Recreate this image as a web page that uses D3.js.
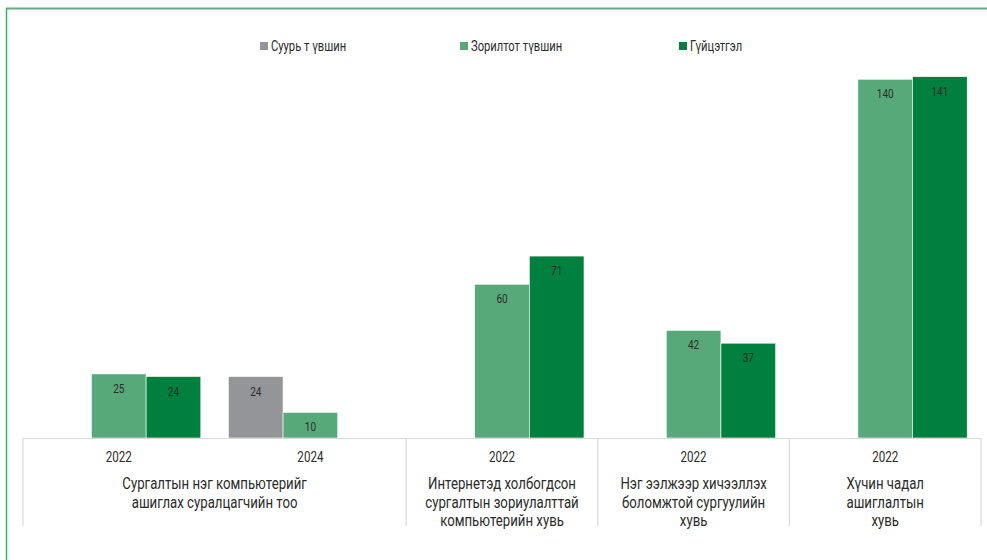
<!DOCTYPE html>
<html>
<head>
<meta charset="utf-8">
<script src="https://cdn.jsdelivr.net/npm/d3@7"></script>
<style>
  body { margin: 0; background: #fff; }
  svg text { font-family: "Roboto", "Noto Sans", sans-serif; fill: #2b2b2b; }
</style>
</head>
<body>
<div class="chart"></div>
<script>
var svgWidth = 987;
var svgHeight = 560;

// Data
var slotIds = ['c1-2022', 'c1-2024', 'c2-2022', 'c3-2022', 'c4-2022'];
var slotYears = ['2022', '2024', '2022', '2022', '2022'];
var seriesNames = ['Суурь т үвшин', 'Зорилтот түвшин', 'Гүйцэтгэл'];
var suurValues = [null, 24, null, null, null];
var zoriltValues = [25, 10, 60, 42, 140];
var guitsetgelValues = [24, null, 71, 37, 141];
var groupLabels = [
  ['Сургалтын нэг компьютерийг', 'ашиглах суралцагчийн тоо'],
  ['Интернетэд холбогдсон', 'сургалтын зориулалттай', 'компьютерийн хувь'],
  ['Нэг ээлжээр хичээллэх', 'боломжтой сургуулийн', 'хувь'],
  ['Хүчин чадал', 'ашиглалтын', 'хувь']
];
var groupSlots = [[0, 1], [2, 2], [3, 3], [4, 4]];

var colors = ['#939598', '#58a97a', '#00803e'];

var margin = { left: 23, right: 6, top: 28, baseline: 438 };
var narrow = 0.8; // condensed look

var svg = d3.select('.chart')
  .append('svg')
  .attr('width', svgWidth)
  .attr('height', svgHeight);

// text helper: squeeze horizontally around the anchor point
function addText(parent, x, y, size, anchor) {
  return parent.append('text')
    .attr('transform', `translate(${x}, ${y}) scale(${narrow}, 1)`)
    .attr('text-anchor', anchor || 'middle')
    .style('font-size', size + 'px');
}

// frame
svg.append('line')
  .attr('x1', 6).attr('x2', svgWidth).attr('y1', 8.5).attr('y2', 8.5)
  .attr('stroke', '#62ad84').attr('stroke-width', 2);
svg.append('line')
  .attr('x1', 6.5).attr('x2', 6.5).attr('y1', 8).attr('y2', svgHeight)
  .attr('stroke', '#3cb371').attr('stroke-width', 1.5);

// scales
var x0 = d3.scaleBand()
  .domain(slotIds)
  .range([margin.left, svgWidth - margin.right])
  .paddingInner(0.144)
  .paddingOuter(0.072);

var x1 = d3.scaleBand()
  .domain(seriesNames)
  .range([0, x0.bandwidth()]);

var y = d3.scaleLinear()
  .domain([0, 160])
  .range([margin.baseline, margin.top]);

var step = x0.step();
function slotEdge(i) { return margin.left + i * step; }

// bars
var rows = [];
slotIds.forEach(function(id, i) {
  [suurValues, zoriltValues, guitsetgelValues].forEach(function(arr, s) {
    if (arr[i] != null) rows.push({ slot: id, series: seriesNames[s], s: s, value: arr[i] });
  });
});

var barG = svg.append('g');
barG.selectAll('rect')
  .data(rows)
  .enter()
  .append('rect')
  .attr('x', d => x0(d.slot) + x1(d.series))
  .attr('y', d => y(d.value))
  .attr('width', x1.bandwidth())
  .attr('height', d => y(0) - y(d.value))
  .attr('fill', d => colors[d.s])
  .attr('stroke', '#fff')
  .attr('stroke-width', 0.6);

rows.forEach(function(d) {
  addText(barG, x0(d.slot) + x1(d.series) + x1.bandwidth() / 2, y(d.value) + 19, 12.5)
    .text(d.value);
});

// axis lines
var axisG = svg.append('g');
axisG.append('line')
  .attr('x1', slotEdge(0)).attr('x2', slotEdge(5))
  .attr('y1', margin.baseline + 0.5).attr('y2', margin.baseline + 0.5)
  .attr('stroke', '#d9d9d9').attr('stroke-width', 1.2);

var dividers = [0].concat(groupSlots.map(g => g[1] + 1));
axisG.selectAll('.div')
  .data(dividers)
  .enter()
  .append('line')
  .attr('x1', d => slotEdge(d)).attr('x2', d => slotEdge(d))
  .attr('y1', margin.baseline).attr('y2', 526)
  .attr('stroke', '#d9d9d9').attr('stroke-width', 1.2);

// year labels
slotIds.forEach(function(id, i) {
  addText(axisG, x0(id) + x0.bandwidth() / 2, 462, 14.5).text(slotYears[i]);
});

// group labels
groupLabels.forEach(function(lines, g) {
  var cx = (slotEdge(groupSlots[g][0]) + slotEdge(groupSlots[g][1] + 1)) / 2;
  lines.forEach(function(line, k) {
    addText(axisG, cx, 489 + k * 18.5, 16.5).text(line);
  });
});

// legend
var legendX = [260, 460, 679];
var legend = svg.append('g');
seriesNames.forEach(function(name, i) {
  legend.append('rect')
    .attr('x', legendX[i]).attr('y', 42)
    .attr('width', 8).attr('height', 8)
    .attr('fill', colors[i]);
  addText(legend, legendX[i] + 11, 50.5, 14, 'start').text(name);
});
</script>
</body>
</html>
